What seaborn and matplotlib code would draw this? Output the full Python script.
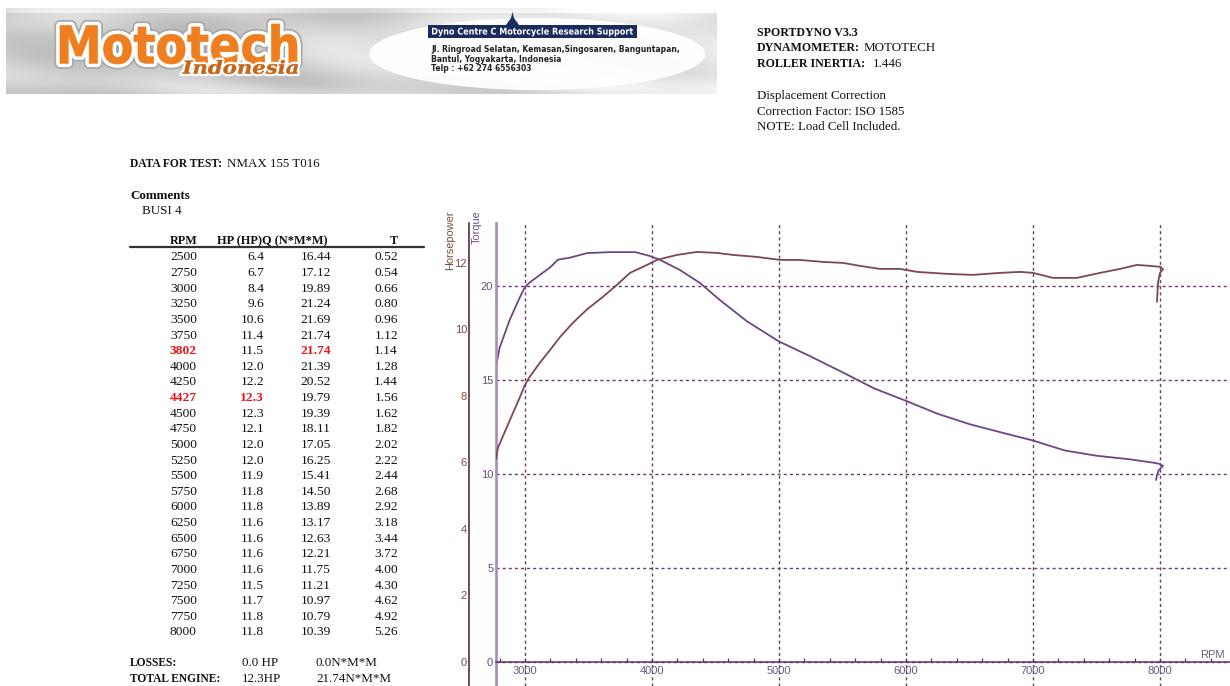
import numpy as np
import pandas as pd
import matplotlib
matplotlib.use("Agg")
import matplotlib.pyplot as plt
import matplotlib.patheffects as pe
from matplotlib.patches import PathPatch, Ellipse, Rectangle, Polygon
from matplotlib.textpath import TextPath
from matplotlib.font_manager import FontProperties
from matplotlib.transforms import Affine2D
from matplotlib.ticker import MultipleLocator
import seaborn as sns

# ---------------- table data ----------------
table_rpm = ["2500", "2750", "3000", "3250", "3500", "3750", "3802", "4000", "4250", "4427",
             "4500", "4750", "5000", "5250", "5500", "5750", "6000", "6250", "6500", "6750",
             "7000", "7250", "7500", "7750", "8000"]
table_hp = ["6.4", "6.7", "8.4", "9.6", "10.6", "11.4", "11.5", "12.0", "12.2", "12.3",
            "12.3", "12.1", "12.0", "12.0", "11.9", "11.8", "11.8", "11.6", "11.6", "11.6",
            "11.6", "11.5", "11.7", "11.8", "11.8"]
table_tq = ["16.44", "17.12", "19.89", "21.24", "21.69", "21.74", "21.74", "21.39", "20.52", "19.79",
            "19.39", "18.11", "17.05", "16.25", "15.41", "14.50", "13.89", "13.17", "12.63", "12.21",
            "11.75", "11.21", "10.97", "10.79", "10.39"]
table_t = ["0.52", "0.54", "0.66", "0.80", "0.96", "1.12", "1.14", "1.28", "1.44", "1.56",
           "1.62", "1.82", "2.02", "2.22", "2.44", "2.68", "2.92", "3.18", "3.44", "3.72",
           "4.00", "4.30", "4.62", "4.92", "5.26"]
peak_tq_row = 6   # 3802 rpm
peak_hp_row = 9   # 4427 rpm

# ---------------- curves ----------------
tq_curve_rpm = [2772, 2800, 2880, 2960, 3000, 3040, 3120, 3200, 3260, 3350, 3490, 3670, 3870,
                3980, 4060, 4220, 4380, 4535, 4750, 5000, 5250, 5500, 5750, 6000, 6250, 6500,
                6750, 7000, 7250, 7500, 7750, 7950, 8000, 8024, 7990, 7975, 7969]
tq_curve_val = [15.7, 16.7, 18.2, 19.4, 19.95, 20.2, 20.6, 21.0, 21.4, 21.5, 21.75, 21.8, 21.8,
                21.6, 21.4, 20.85, 20.15, 19.25, 18.11, 17.05, 16.25, 15.41, 14.55, 13.89, 13.2,
                12.65, 12.21, 11.78, 11.25, 10.97, 10.79, 10.6, 10.53, 10.43, 10.2, 9.9, 9.68]
hp_curve_rpm = [2772, 2787, 2882, 2961, 3000, 3031, 3118, 3197, 3276, 3378, 3488, 3614, 3724,
                3827, 3961, 4039, 4197, 4354, 4512, 4638, 4827, 5008, 5165, 5346, 5504, 5638,
                5795, 5953, 6087, 6323, 6528, 6740, 6898, 7000, 7157, 7346, 7528, 7685, 7819,
                7921, 8005, 8024, 8000, 7984, 7976]
hp_curve_val = [6.1, 6.44, 7.28, 7.97, 8.33, 8.54, 9.0, 9.38, 9.77, 10.2, 10.6, 10.98, 11.34,
                11.7, 11.94, 12.09, 12.24, 12.33, 12.3, 12.24, 12.18, 12.09, 12.09, 12.03, 12.0,
                11.91, 11.82, 11.82, 11.73, 11.67, 11.64, 11.7, 11.73, 11.7, 11.55, 11.55, 11.7,
                11.82, 11.94, 11.91, 11.88, 11.81, 11.7, 11.4, 10.83]

tq_ticks = [0, 5, 10, 15, 20]
hp_ticks = [0, 2, 4, 6, 8, 10, 12]
rpm_ticks = [3000, 4000, 5000, 6000, 7000, 8000]

# ---------------- figure ----------------
sns.set_theme(style="white")
plt.rcParams['font.family'] = ['Liberation Sans', 'DejaVu Sans']

W, H = 1230, 686
fig = plt.figure(figsize=(W / 100, H / 100), dpi=100)
fig.patch.set_facecolor("white")
SERIF = ['Liberation Serif', 'DejaVu Serif']


def txt(x, y, s, size=9.4, weight='normal', color='#111111', ha='left'):
    px = size * 100 / 72.0
    fig.text(x / W, 1 - (y + 0.33 * px) / H, s, fontsize=size, fontweight=weight,
             color=color, ha=ha, va='baseline', family=SERIF)


# ---------------- banner ----------------
axb = fig.add_axes([6 / W, 1 - 94 / H, 711 / W, 86 / H])
axb.set_xlim(6, 717)
axb.set_ylim(94, 8)
axb.axis('off')
xx, yy = np.meshgrid(np.linspace(0, 1, 711), np.linspace(0, 1, 86))
bg = 0.79 + 0.13 * xx ** 1.5 + 0.05 * np.sin(9 * xx + 4 * np.sin(3 * yy) - 2 * yy) \
     + 0.03 * np.sin(23 * xx - 5 * yy)
bg[:5, :] = np.clip(bg[:5, :] + 0.08, 0, 1)
axb.imshow(np.clip(bg, 0, 1), cmap='gray', vmin=0, vmax=1, extent=(6, 717, 94, 8),
           aspect='auto', origin='upper')
axb.add_patch(Ellipse((537, 54), 336, 72, facecolor='white', edgecolor='none', alpha=0.95))


def fit_text(ax, s, x0, x1, y0, y1, prop, **kw):
    tp = TextPath((0, 0), s, size=1, prop=prop)
    ext = tp.get_extents()
    sx = (x1 - x0) / ext.width
    sy = (y1 - y0) / ext.height
    tr = Affine2D().translate(-ext.x0, -ext.y0).scale(sx, -sy).translate(x0, y1)
    patch = PathPatch(tr.transform_path(tp), **kw)
    ax.add_patch(patch)
    return patch


p = fit_text(axb, "Mototech", 60, 297, 24, 64,
             FontProperties(family='DejaVu Sans', weight='bold'),
             facecolor='#ee7e1f', edgecolor='#ee7e1f', lw=0.5, joinstyle='round')
p.set_path_effects([pe.Stroke(linewidth=8, foreground='#a8a8a8', joinstyle='round'),
                    pe.Stroke(linewidth=5.5, foreground='white', joinstyle='round'),
                    pe.Normal()])
p = fit_text(axb, "Indonesia", 182, 298, 60, 74,
             FontProperties(family='DejaVu Serif', weight='bold', style='italic'),
             facecolor='#c4661a', edgecolor='#c4661a', lw=0.3, joinstyle='round')
p.set_path_effects([pe.Stroke(linewidth=3.5, foreground='white', joinstyle='round'),
                    pe.Normal()])

axb.add_patch(Rectangle((428, 25), 209, 13, facecolor='#1b2b5e', edgecolor='none'))
axb.add_patch(Polygon([[506, 25], [511, 18], [512.5, 12], [514, 18], [519, 25]],
                      closed=True, facecolor='#1b2b5e', edgecolor='none'))
fit_text(axb, "Dyno Centre C Motorcycle Research Support", 432, 633, 27.5, 36.5,
         FontProperties(family='DejaVu Sans', weight='bold'),
         facecolor='white', edgecolor='none')
for yline, s in [(49, "Jl. Ringroad Selatan, Kemasan,Singosaren, Banguntapan,"),
                 (59, "Bantul, Yogyakarta, Indonesia"),
                 (68.5, "Telp : +62 274 6556303")]:
    fig.text(431 / W, 1 - yline / H, s, fontsize=5.5, fontweight='bold', color='#222222',
             ha='left', va='center', family=['DejaVu Sans'])

# ---------------- header text ----------------
txt(757, 32, "SPORTDYNO V3.3", 8.6, 'bold')
txt(757, 47, "DYNAMOMETER:", 8.6, 'bold')
txt(864, 47, "MOTOTECH", 9.4)
txt(757, 63, "ROLLER INERTIA:", 8.6, 'bold')
txt(873, 63, "1.446", 9.4)
txt(757, 95, "Displacement Correction", 9.3)
txt(757, 111, "Correction Factor: ISO 1585", 9.3)
txt(757, 126, "NOTE: Load Cell Included.", 9.3)

txt(130, 163, "DATA FOR TEST:", 8.3, 'bold')
txt(227, 163, "NMAX 155 T016", 9.4)
txt(130, 195, "Comments", 9.4, 'bold')
txt(142, 210, "BUSI 4", 9.4)

# ---------------- table ----------------
RED = '#e8141c'
txt(170, 240, "RPM", 8.7, 'bold')
txt(217, 240, "HP (HP)", 8.9, 'bold')
txt(262, 240, "Q (N*M*M)", 8.9, 'bold')
txt(398, 240, "T", 8.7, 'bold', ha='right')
fig.add_artist(plt.Line2D([130 / W, 424 / W], [1 - 247 / H, 1 - 247 / H],
                          color='#333333', lw=1.6, transform=fig.transFigure))
for i in range(len(table_rpm)):
    y = 256 + 15.625 * i
    rpm_red = i in (peak_tq_row, peak_hp_row)
    txt(197, y, table_rpm[i], 9.7, 'bold' if rpm_red else 'normal',
        RED if rpm_red else '#111111', ha='right')
    hp_red = i == peak_hp_row
    txt(264, y, table_hp[i], 9.7, 'bold' if hp_red else 'normal',
        RED if hp_red else '#111111', ha='right')
    tq_red = i == peak_tq_row
    txt(331, y, table_tq[i], 9.7, 'bold' if tq_red else 'normal',
        RED if tq_red else '#111111', ha='right')
    txt(398, y, table_t[i], 9.7, ha='right')

txt(130, 662, "LOSSES:", 8.3, 'bold')
txt(242, 662, "0.0 HP", 9.4)
txt(316, 662, "0.0N*M*M", 9.4)
txt(130, 678, "TOTAL ENGINE:", 8.3, 'bold')
txt(242, 678, "12.3HP", 9.4)
txt(316, 678, "21.74N*M*M", 9.4)

# ---------------- chart ----------------
GRID = '#6a3a6e'
TQ_COL = '#6e4684'
HP_COL = '#7e4650'
ax = fig.add_axes([496 / W, 0, (W - 496) / W, 463 / H])
ax.set_facecolor('none')
ax.set_xlim(2772, 8551)
ax.set_ylim(-1.277, 23.35)
ax2 = ax.twinx()
ax2.set_ylim(-0.722, 13.2)

tq_df = pd.DataFrame({"rpm": tq_curve_rpm, "torque": tq_curve_val})
hp_df = pd.DataFrame({"rpm": hp_curve_rpm, "hp": hp_curve_val})
sns.lineplot(data=tq_df, x="rpm", y="torque", ax=ax, sort=False, estimator=None,
             color=TQ_COL, linewidth=1.3)
sns.lineplot(data=hp_df, x="rpm", y="hp", ax=ax2, sort=False, estimator=None,
             color=HP_COL, linewidth=1.3)
for a in (ax, ax2):
    a.set_xlabel("")
    a.set_ylabel("")
    a.set_xlim(2772, 8551)

ax.set_xticks(rpm_ticks)
ax.xaxis.set_minor_locator(MultipleLocator(200))
ax.set_yticks(tq_ticks)
ax.grid(True, which='major', linestyle=(0, (2.2, 2.2)), color=GRID, linewidth=1.0)
ax.set_axisbelow(True)

for s in ('top', 'right'):
    ax.spines[s].set_visible(False)
ax.spines['left'].set_color('#a98bb6')
ax.spines['left'].set_linewidth(1.9)
ax.spines['bottom'].set_position(('data', 0))
ax.spines['bottom'].set_color('#5e3466')
ax.spines['bottom'].set_linewidth(1.1)
ax.tick_params(axis='x', which='both', direction='in', length=3, width=0.9,
               color='#5e3466', labelsize=8, labelcolor='#6a5a7c', pad=3, bottom=True)
ax.tick_params(axis='y', which='both', length=0, pad=2, labelsize=8, labelcolor='#6e4a78')

ax2.set_yticks(hp_ticks)
ax2.grid(False)
for s in ('top', 'right', 'bottom'):
    ax2.spines[s].set_visible(False)
ax2.spines['left'].set_visible(True)
ax2.spines['left'].set_position(('outward', 19.4))
ax2.spines['left'].set_color('#4c1a30')
ax2.spines['left'].set_linewidth(1.1)
ax2.yaxis.set_ticks_position('left')
ax2.tick_params(axis='y', which='both', left=True, right=False, labelleft=True,
                labelright=False, length=0, pad=1.5, labelsize=8, labelcolor='#7c4c3c')

fig.text(1212 / W, 1 - 655 / H, "RPM", fontsize=8, color='#6a5a7c', ha='center', va='center')
fig.text(450 / W, 1 - 240 / H, "Horsepower", fontsize=7.9, color='#7c4c3c',
         rotation=90, ha='center', va='center')
fig.text(477 / W, 1 - 227 / H, "Torque", fontsize=7.9, color='#6e4a78',
         rotation=90, ha='center', va='center')

fig.savefig("out.png", dpi=100, facecolor='white')
